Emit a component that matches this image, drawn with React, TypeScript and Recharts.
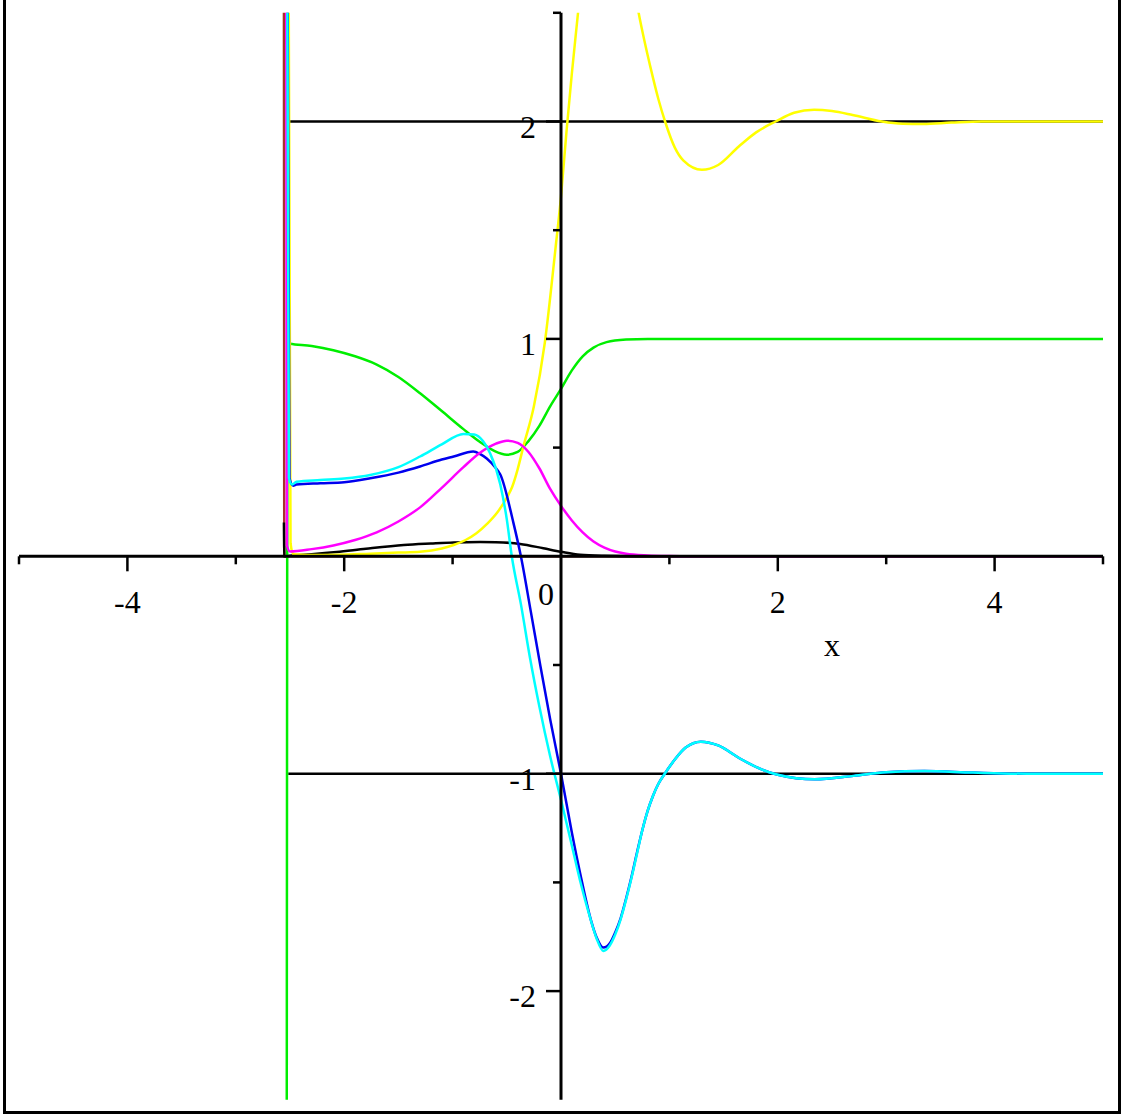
import React from 'react';
import { LineChart, Line, XAxis, YAxis, ReferenceLine, ReferenceDot } from 'recharts';

// near-vertical pieces at x ~ -2.55 run past the top/bottom and get clipped
const redX = [-2.556, -2.553, 5];
const redY = [2.6, 0, 0];

const blackX = [-2.556, -2.552, -2.5, -2.3, -2.07, -1.8, -1.45, -1.2, -0.99, -0.745, -0.6, -0.377, -0.163, 0, 0.175, 0.4, 0.7, 1.0, 5];
const blackY = [0.155, 0.0, 0.003, 0.01, 0.02, 0.035, 0.052, 0.059, 0.064, 0.066, 0.065, 0.057, 0.037, 0.021, 0.007, 0.002, 0, 0, 0];

const upperX = [-2.516, 5];
const upperY = [2, 2];
const lowerX = [-2.516, 5];
const lowerY = [-1, -1];

const greenX = [-2.53, -2.522, -2.5, -2.3, -2.1, -1.9, -1.7, -1.5, -1.3, -1.1, -0.9, -0.75, -0.62, -0.5, -0.4, -0.3, -0.2, -0.1, 0, 0.1, 0.2, 0.3, 0.42, 0.6, 0.8, 5];
const greenY = [-2.6, 0.98, 0.978, 0.967, 0.948, 0.92, 0.882, 0.825, 0.75, 0.668, 0.585, 0.527, 0.486, 0.467, 0.48, 0.53, 0.6, 0.69, 0.77, 0.855, 0.92, 0.96, 0.985, 0.997, 1.0, 1.0];

const yellowX = [-2.512, -2.495, -2.47, -2.2, -1.76, -1.5, -1.3, -1.1, -0.99, -0.88, -0.78, -0.68, -0.59, -0.5, -0.45, -0.4, -0.347, -0.25, -0.15, -0.05, 0, 0.05, 0.1, 0.157, 0.2, 0.3, 0.4, 0.5, 0.6, 0.66, 0.716, 0.77, 0.825, 0.9, 0.96, 1.05, 1.13, 1.3, 1.45, 1.64, 1.8, 1.98, 2.15, 2.335, 2.5, 2.69, 2.96, 3.15, 3.34, 3.6, 3.88, 5];
const yellowY = [2.6, 0.06, 0.01, 0.006, 0.012, 0.017, 0.021, 0.036, 0.052, 0.075, 0.106, 0.15, 0.2, 0.27, 0.32, 0.4, 0.505, 0.69, 0.98, 1.42, 1.655, 1.95, 2.22, 2.5, 2.72, 3.2, 3.5, 3.3, 2.85, 2.66, 2.5, 2.37, 2.25, 2.1, 2.0, 1.88, 1.82, 1.778, 1.8, 1.885, 1.95, 2.0, 2.04, 2.054, 2.048, 2.03, 2.0, 1.99, 1.989, 1.995, 2.0, 2.0];

const blueX = [-2.522, -2.505, -2.47, -2.44, -2.22, -2.0, -1.76, -1.5, -1.3, -1.1, -0.99, -0.81, -0.745, -0.685, -0.6, -0.56, -0.44, -0.37, -0.28, -0.19, -0.1, 0, 0.1, 0.175, 0.28, 0.33, 0.39, 0.45, 0.5, 0.55, 0.6, 0.65, 0.7, 0.75, 0.8, 0.85, 0.9, 0.957, 1.05, 1.15, 1.29, 1.45, 1.65, 1.85, 2.0, 2.34, 2.7, 3.0, 3.35, 3.8, 4.3, 5];
const blueY = [2.6, 0.36, 0.325, 0.33, 0.336, 0.341, 0.359, 0.385, 0.413, 0.445, 0.459, 0.482, 0.47, 0.45, 0.405, 0.376, 0.156, 0.0, -0.25, -0.505, -0.75, -1.0, -1.27, -1.454, -1.68, -1.755, -1.8, -1.78, -1.73, -1.665, -1.575, -1.475, -1.365, -1.26, -1.17, -1.1, -1.045, -1.0, -0.935, -0.88, -0.853, -0.87, -0.93, -0.98, -1.005, -1.026, -1.01, -0.993, -0.988, -0.995, -1.0, -1.0];

const magentaX = [-2.535, -2.528, -2.5, -2.3, -2.1, -1.9, -1.7, -1.5, -1.3, -1.1, -0.9, -0.75, -0.6, -0.5, -0.4, -0.3, -0.2, -0.1, 0, 0.1, 0.2, 0.3, 0.4, 0.5, 0.6, 0.8, 1.0, 1.2, 5];
const magentaY = [2.6, 0.05, 0.022, 0.033, 0.05, 0.075, 0.11, 0.16, 0.225, 0.315, 0.41, 0.475, 0.518, 0.532, 0.522, 0.48, 0.405, 0.31, 0.232, 0.165, 0.11, 0.068, 0.04, 0.022, 0.012, 0.004, 0.001, 0, 0];

const cyanX = [-2.525, -2.51, -2.48, -2.44, -2.22, -2.0, -1.76, -1.5, -1.3, -1.1, -0.9, -0.8, -0.72, -0.654, -0.56, -0.5, -0.454, -0.37, -0.285, -0.2, -0.1, 0, 0.1, 0.175, 0.267, 0.33, 0.39, 0.45, 0.5, 0.55, 0.6, 0.65, 0.7, 0.75, 0.8, 0.85, 0.9, 0.957, 1.05, 1.15, 1.29, 1.45, 1.65, 1.85, 2.0, 2.34, 2.7, 3.0, 3.35, 3.8, 4.3, 5];
const cyanY = [2.6, 0.36, 0.33, 0.343, 0.351, 0.358, 0.374, 0.41, 0.459, 0.515, 0.563, 0.56, 0.53, 0.474, 0.33, 0.17, 0.0, -0.22, -0.47, -0.69, -0.92, -1.12, -1.33, -1.49, -1.66, -1.76, -1.815, -1.79, -1.74, -1.67, -1.58, -1.48, -1.37, -1.26, -1.17, -1.1, -1.045, -1.0, -0.935, -0.88, -0.853, -0.87, -0.93, -0.98, -1.005, -1.026, -1.01, -0.993, -0.988, -0.995, -1.0, -1.0];

const xTicks = [-5, -4, -3, -2, -1, 1, 2, 3, 4, 5];
const xLabels = [-4, -2, 2, 4];
const yTicks = [2.5, 2, 1.5, 1, 0.5, -0.5, -1, -1.5, -2];
const yLabels = [2, 1, -1, -2];

const toPoints = (xs: number[], ys: number[]) => xs.map((x, i) => ({ x, y: ys[i] }));

const FONT = '"Liberation Serif", "DejaVu Serif", serif';
const FONT_SIZE = 32;

const xTickShape = (long: boolean) => (p: any) => (
  <line x1={p.cx} y1={p.cy} x2={p.cx} y2={p.cy + (long ? 15 : 8)} stroke="#000" strokeWidth={2.5} />
);
const yTickShape = (long: boolean) => (p: any) => (
  <line x1={p.cx} y1={p.cy} x2={p.cx - (long ? 15 : 8)} y2={p.cy} stroke="#000" strokeWidth={2.5} />
);
const textShape = (text: string, dx: number, dy: number, anchor: string) => (p: any) => (
  <text x={p.cx + dx} y={p.cy + dy} textAnchor={anchor} fontFamily={FONT} fontSize={FONT_SIZE} fill="#000">
    {text}
  </text>
);

const series = [
  { name: 'red', xs: redX, ys: redY, color: '#a8322c', type: 'linear' },
  { name: 'upper', xs: upperX, ys: upperY, color: '#000000', type: 'linear' },
  { name: 'lower', xs: lowerX, ys: lowerY, color: '#000000', type: 'linear' },
  { name: 'black', xs: blackX, ys: blackY, color: '#000000', type: 'monotone' },
  { name: 'green', xs: greenX, ys: greenY, color: '#00ee00', type: 'monotone' },
  { name: 'yellow', xs: yellowX, ys: yellowY, color: '#ffff00', type: 'monotone' },
  { name: 'blue', xs: blueX, ys: blueY, color: '#0000ee', type: 'monotone' },
  { name: 'magenta', xs: magentaX, ys: magentaY, color: '#ff00ff', type: 'monotone' },
  { name: 'cyan', xs: cyanX, ys: cyanY, color: '#00ffff', type: 'monotone' },
];

export default function App() {
  return (
    <div style={{ position: 'absolute', left: 0, top: 0, width: 1123, height: 1116, background: '#fff' }}>
      <LineChart width={1123} height={1116} margin={{ top: 12.8, right: 20, bottom: 16.2, left: 19 }}>
        <XAxis type="number" dataKey="x" domain={[-5, 5]} allowDataOverflow hide />
        <YAxis type="number" dataKey="y" domain={[-2.5, 2.5]} allowDataOverflow hide />
        {series.map((s) => (
          <Line
            key={s.name}
            data={toPoints(s.xs, s.ys)}
            dataKey="y"
            type={s.type as any}
            stroke={s.color}
            strokeWidth={2.5}
            dot={false}
            activeDot={false}
            isAnimationActive={false}
          />
        ))}
        <ReferenceLine y={0} stroke="#000" strokeWidth={3} />
        <ReferenceLine x={0} stroke="#000" strokeWidth={3} />
        {xTicks.map((t) => (
          <ReferenceDot key={`xt${t}`} x={t} y={0} ifOverflow="visible" shape={xTickShape(t % 2 === 0)} />
        ))}
        {yTicks.map((t) => (
          <ReferenceDot key={`yt${t}`} x={0} y={t} ifOverflow="visible" shape={yTickShape(Number.isInteger(t))} />
        ))}
        {xLabels.map((t) => (
          <ReferenceDot key={`xl${t}`} x={t} y={0} ifOverflow="visible" shape={textShape(String(t), 0, 57, 'middle')} />
        ))}
        {yLabels.map((t) => (
          <ReferenceDot key={`yl${t}`} x={0} y={t} ifOverflow="visible" shape={textShape(String(t), -25, 16, 'end')} />
        ))}
        <ReferenceDot x={0} y={0} ifOverflow="visible" shape={textShape('0', -15, 49, 'middle')} />
        <ReferenceDot x={2.5} y={0} ifOverflow="visible" shape={textShape('x', 0, 100, 'middle')} />
      </LineChart>
      <div
        style={{
          position: 'absolute',
          left: 3,
          top: -3,
          width: 1118,
          height: 1117,
          border: '3px solid #000',
          boxSizing: 'border-box',
          pointerEvents: 'none',
        }}
      />
    </div>
  );
}
